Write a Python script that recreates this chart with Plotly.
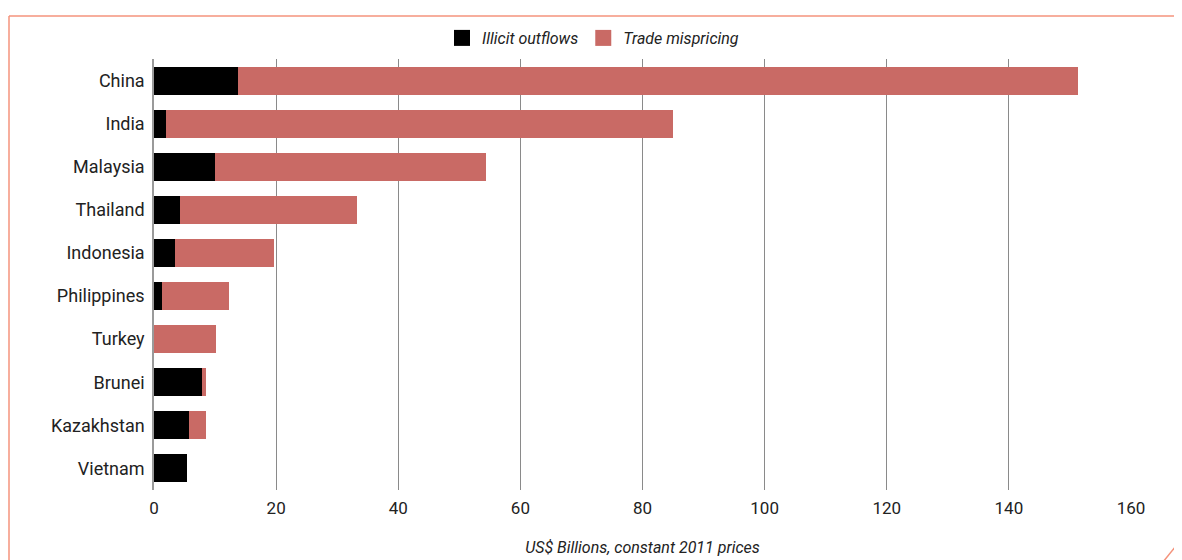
import plotly.graph_objects as go

countries = ["China", "India", "Malaysia", "Thailand", "Indonesia",
             "Philippines", "Turkey", "Brunei", "Kazakhstan", "Vietnam"]
illicit_outflows = [13.8, 2.0, 10.0, 4.3, 3.4, 1.3, 0.0, 7.9, 5.7, 5.4]
trade_mispricing = [137.5, 83.0, 44.4, 28.9, 16.3, 11.0, 10.2, 0.6, 2.8, 0.0]

FONT = "Roboto"
BLACK = "#000000"
RED = "#c96a65"
FRAME = "#f4937c"
TEXT = "#222222"

# the page body adds an 8px offset, so the figure is drawn 8px smaller
OFF = 8
W, H = 1182 - OFF, 560 - OFF
ML, MR, MT, MB = 154 - OFF, 51, 59 - OFF, 70
PW, PH = W - ML - MR, H - MT - MB


def px(x):
    # screen pixel in the reference -> paper x
    return (x - OFF - ML) / PW


def py(y):
    return (H - MB - (y - OFF)) / PH


fig = go.Figure()
fig.add_trace(go.Bar(
    y=countries, x=illicit_outflows, orientation="h", name="Illicit outflows",
    marker=dict(color=BLACK, line=dict(width=0)), showlegend=False,
))
fig.add_trace(go.Bar(
    y=countries, x=trade_mispricing, orientation="h", name="Trade mispricing",
    marker=dict(color=RED, line=dict(width=0)), showlegend=False,
))
# legend entries with bigger square swatches
for name, col in [("Illicit outflows", BLACK), ("Trade mispricing", RED)]:
    fig.add_trace(go.Scatter(
        x=[None], y=[None], mode="markers", name=name,
        marker=dict(symbol="square", size=16, color=col),
    ))

# page frame (orange rule at top and left, folded corner bottom right)
frame = dict(xref="paper", yref="paper", line=dict(color=FRAME, width=1.5))
fig.add_shape(type="line", x0=px(9), x1=px(1190), y0=py(16), y1=py(16), **frame)
fig.add_shape(type="line", x0=px(9), x1=px(9), y0=py(16), y1=py(570), **frame)
fig.add_shape(type="line", x0=px(1163), x1=px(1184), y0=py(562), y1=py(536), **frame)

fig.update_layout(
    width=W, height=H,
    margin=dict(l=ML, r=MR, t=MT, b=MB, autoexpand=False),
    barmode="stack", bargap=0.35,
    plot_bgcolor="white", paper_bgcolor="white",
    font=dict(family=FONT, size=18, color=TEXT),
    showlegend=True,
    legend=dict(
        orientation="h", x=px(593), xanchor="center", y=py(38), yanchor="middle",
        font=dict(family=FONT, size=16, style="italic", color=TEXT),
        traceorder="normal", itemwidth=30,
    ),
    xaxis=dict(
        range=[0, 160], dtick=20, showgrid=True, gridcolor="#8a8a8a", gridwidth=1,
        zeroline=False, showline=False, ticks="", ticklabelstandoff=6,
        tickfont=dict(size=17, color=TEXT), automargin=False,
        title=dict(text="US$ Billions, constant 2011 prices",
                   font=dict(size=16, style="italic", color=TEXT), standoff=24),
    ),
    yaxis=dict(
        autorange="reversed", showline=True, linecolor="#9a9a9a", linewidth=1.5,
        ticks="", ticklabelstandoff=4, tickfont=dict(size=18, color=TEXT),
        automargin=False,
    ),
)

fig.write_html("out.html")
